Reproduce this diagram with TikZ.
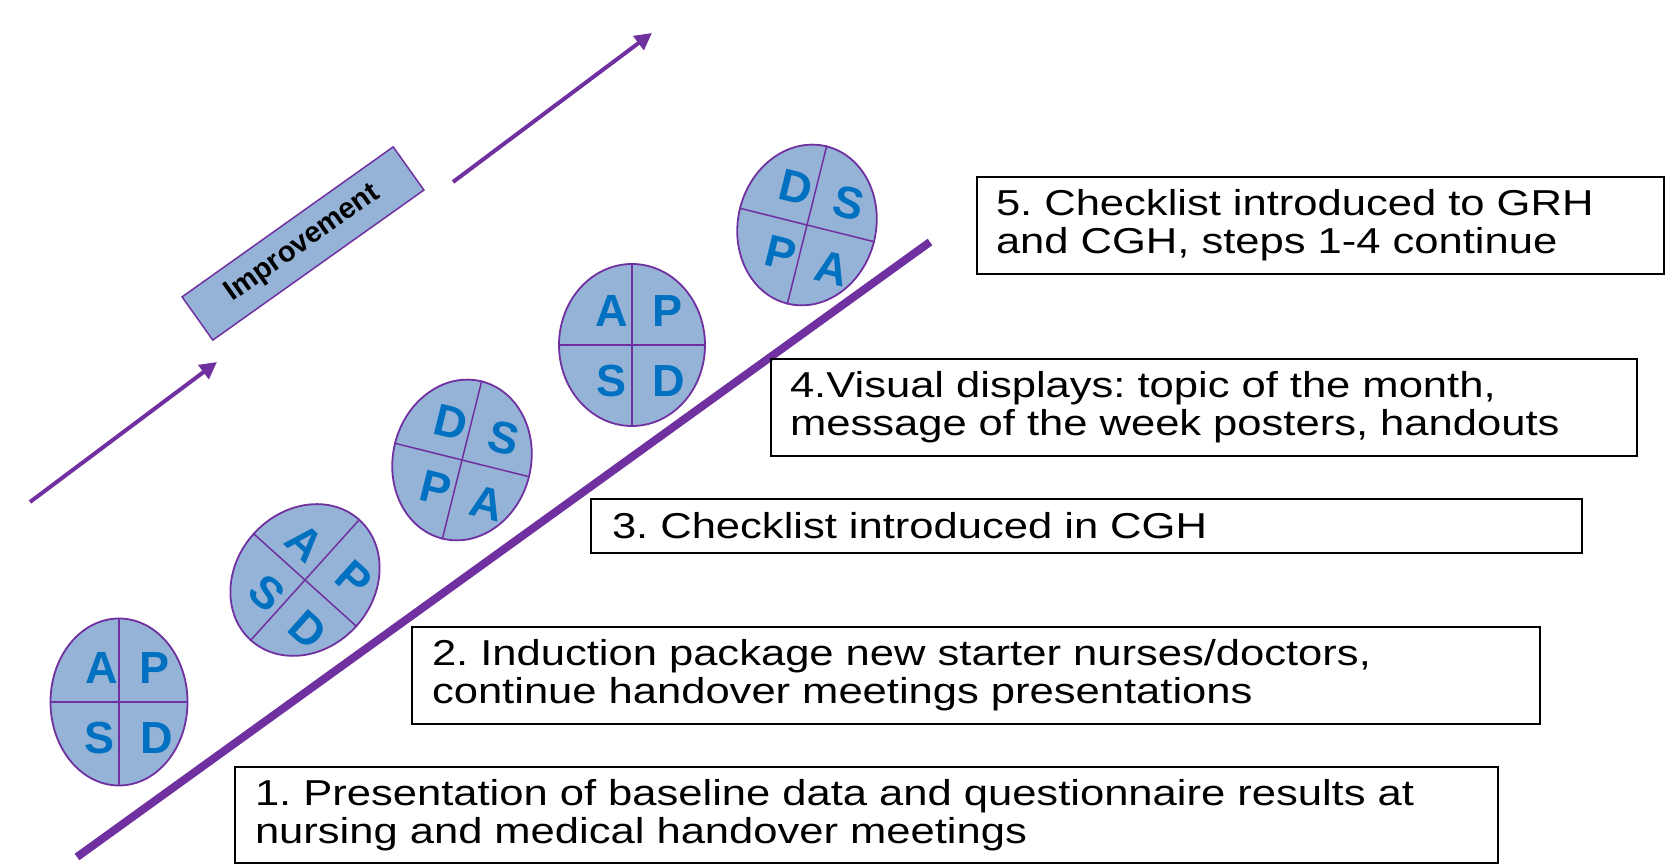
\documentclass[tikz,border=0pt]{standalone}
\usepackage{fontspec}
\setmainfont{Liberation Sans}
\newfontfamily\boxfont[FakeStretch=1.21]{Liberation Sans}
\usetikzlibrary{shapes.geometric,arrows.meta}
\definecolor{cyclefill}{HTML}{95B3D7}
\definecolor{cycleline}{HTML}{7030A0}
\definecolor{cycletext}{HTML}{0070C0}
\frenchspacing

\begin{document}
\begin{tikzpicture}[x=1pt,y=1pt]
\tikzset{
  stagebox/.style={draw=black, line width=1.2pt, align=left, inner ysep=0pt, font=\boxfont\fontsize{36}{38}\selectfont},
  pdsa/.style={ellipse, draw=cycleline, line width=1.8pt, fill=cyclefill, inner sep=0pt, minimum width=138pt, minimum height=162pt},
  split/.style={draw=cycleline, line width=1.5pt},
  letter/.style={text=cycletext, inner sep=0pt, font=\bfseries\fontsize{45}{45}\selectfont},
  rise/.style={draw=cycleline, line width=4pt, -{Triangle[length=17pt,width=17pt]}},
}
\useasboundingbox (0,0) rectangle (1676,864);

% the slope
\coordinate (slopestart) at (77,7);
\coordinate (slopeend) at (930,622);
\draw[draw=cycleline, line width=8pt] (slopestart) -- (slopeend);

% improvement arrows
\coordinate (lowtail) at (30,362);
\coordinate (lowtip) at (217,502);
\draw[rise] (lowtail) -- (lowtip);
\coordinate (hightail) at (453,682);
\coordinate (hightip) at (652,831);
\draw[rise] (hightail) -- (hightip);
\node[draw=cycleline, fill=cyclefill, line width=1.5pt, minimum width=259pt, minimum height=53pt,
      rotate=35.4, font=\bfseries\fontsize{29}{29}\selectfont] (improve) at (303,620.5) {Improvement};

% cycle 1
\begin{scope}[shift={(119,162)}, transform shape]
\node[pdsa, minimum width=137pt, minimum height=167pt] (cycle1) at (0,0) {};
\draw[split] (cycle1.north) -- (cycle1.south) (cycle1.west) -- (cycle1.east);
\node[letter] (cycle1a) at (-17,34) {A};
\node[letter] (cycle1p) at (36,34) {P};
\node[letter] (cycle1s) at (-19,-36) {S};
\node[letter] (cycle1d) at (38,-36) {D};
\end{scope}

% cycle 2
\begin{scope}[shift={(305,284)}, rotate=-42, transform shape]
\node[pdsa] (cycle2) at (0,0) {};
\draw[split] (cycle2.north) -- (cycle2.south) (cycle2.west) -- (cycle2.east);
\node[letter] (cycle2a) at (-25,28) {A};
\node[letter] (cycle2p) at (36,34) {P};
\node[letter] (cycle2s) at (-19,-35) {S};
\node[letter] (cycle2d) at (36,-35) {D};
\end{scope}

% cycle 3
\begin{scope}[shift={(462,404)}, rotate=-14, transform shape]
\node[pdsa] (cycle3) at (0,0) {};
\draw[split] (cycle3.north) -- (cycle3.south) (cycle3.west) -- (cycle3.east);
\node[letter] (cycle3d) at (-20,34) {D};
\node[letter] (cycle3s) at (35,31) {S};
\node[letter] (cycle3p) at (-19,-34) {P};
\node[letter] (cycle3a) at (35,-36) {A};
\end{scope}

% cycle 4
\begin{scope}[shift={(632,519)}, transform shape]
\node[pdsa, minimum width=146pt, minimum height=162pt] (cycle4) at (0,0) {};
\draw[split] (cycle4.north) -- (cycle4.south) (cycle4.west) -- (cycle4.east);
\node[letter] (cycle4a) at (-20,34) {A};
\node[letter] (cycle4p) at (35,34) {P};
\node[letter] (cycle4s) at (-20,-36) {S};
\node[letter] (cycle4d) at (37,-36) {D};
\end{scope}

% cycle 5
\begin{scope}[shift={(807,639)}, rotate=-14, transform shape]
\node[pdsa] (cycle5) at (0,0) {};
\draw[split] (cycle5.north) -- (cycle5.south) (cycle5.west) -- (cycle5.east);
\node[letter] (cycle5d) at (-20,34) {D};
\node[letter] (cycle5s) at (35,31) {S};
\node[letter] (cycle5p) at (-19,-34) {P};
\node[letter] (cycle5a) at (35,-36) {A};
\end{scope}

% stages
\node[stagebox, text width=1223pt, inner xsep=20pt, minimum height=96pt] (stage1) at (866.5,49)
  {1. Presentation of baseline data and questionnaire results at\\nursing and medical handover meetings};
\node[stagebox, text width=1088pt, inner xsep=20pt, minimum height=97pt] (stage2) at (976,188.5)
  {2. Induction package new starter nurses/doctors,\\continue handover meetings presentations};
\node[stagebox, text width=949pt, inner xsep=21pt, minimum height=54pt] (stage3) at (1086.5,338)
  {3. Checklist introduced in CGH};
\node[stagebox, text width=828pt, inner xsep=19pt, minimum height=97pt] (stage4) at (1204,456.5)
  {4.Visual displays: topic of the month,\\message of the week posters, handouts};
\node[stagebox, text width=649pt, inner xsep=19pt, minimum height=97pt] (stage5) at (1320.5,638.5)
  {5. Checklist introduced to GRH\\and CGH, steps 1-4 continue};
\end{tikzpicture}
\end{document}
